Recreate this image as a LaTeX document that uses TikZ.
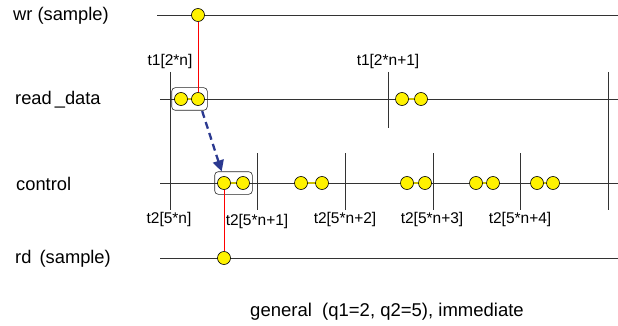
\documentclass[tikz,border=0pt]{standalone}
\usepackage{fontspec}
\setmainfont{Liberation Sans}
\usetikzlibrary{fit,arrows.meta}
\definecolor{dotyellow}{HTML}{FFF200}
\definecolor{pairline}{HTML}{C8BE00}
\definecolor{navyarrow}{HTML}{2B3990}
\begin{document}
\begin{tikzpicture}[x=1pt,y=-1pt,
  sig/.style={draw=black!80, line width=0.8pt},
  tickline/.style={draw=black!80, line width=0.8pt},
  dot/.style={circle, draw=black, fill=dotyellow, minimum size=13pt, inner sep=0pt, line width=0.6pt},
  pair/.style={draw=pairline, line width=1.2pt},
  grp/.style={draw=black!85, rounded corners=3.5pt, inner xsep=2.5pt, inner ysep=4.5pt, line width=0.6pt},
  lbl/.style={anchor=west, font=\fontsize{18.3}{21}\selectfont, inner sep=0pt},
  tlbl/.style={font=\fontsize{15.5}{18}\selectfont, inner sep=0pt},
  captext/.style={font=\fontsize{18.5}{21}\selectfont, inner sep=0pt},
  redl/.style={draw=red, line width=0.8pt},
  darr/.style={draw=navyarrow, line width=2.3pt, dash pattern=on 7pt off 4.5pt, -{Triangle[length=11pt,width=11pt]}}]
\useasboundingbox (0,0) rectangle (618,326);
% labels
\node[lbl] (lwr) at (13,16) {wr (sample)};
\node[lbl] (lrd) at (15,100) {read\,\_data};
\node[lbl] (lct) at (16,184) {control};
\node[lbl] (lrs) at (15,259) {rd\,\ (sample)};
% signal lines
\coordinate (wa) at (157,15); \coordinate (wb) at (618,15);
\coordinate (ra) at (160,99); \coordinate (rb) at (618,99);
\coordinate (ca) at (160,183); \coordinate (cb) at (618,183);
\coordinate (sa) at (160,258); \coordinate (sb) at (618,258);
\draw[sig] (wa) -- (wb);
\draw[sig] (ra) -- (rb);
\draw[sig] (ca) -- (cb);
\draw[sig] (sa) -- (sb);
% ticks
\coordinate (k0a) at (170,72); \coordinate (k0b) at (170,210);
\coordinate (k1a) at (388,72); \coordinate (k1b) at (388,128);
\coordinate (k2a) at (608,72); \coordinate (k2b) at (608,210);
\coordinate (m1a) at (257,153); \coordinate (m1b) at (257,210);
\coordinate (m2a) at (345,153); \coordinate (m2b) at (345,210);
\coordinate (m3a) at (433,153); \coordinate (m3b) at (433,210);
\coordinate (m4a) at (520,153); \coordinate (m4b) at (520,210);
\foreach \a/\b in {k0a/k0b,k1a/k1b,k2a/k2b,m1a/m1b,m2a/m2b,m3a/m3b,m4a/m4b}
  \draw[tickline] (\a) -- (\b);
% tick labels
\node[tlbl] (t10) at (170,61) {t1[2*n]};
\node[tlbl] (t11) at (388,61) {t1[2*n+1]};
\node[tlbl] (t20) at (169,219.5) {t2[5*n]};
\node[tlbl] (t21) at (257,221) {t2[5*n+1]};
\node[tlbl] (t22) at (345,219.5) {t2[5*n+2]};
\node[tlbl] (t23) at (432,219.5) {t2[5*n+3]};
\node[tlbl] (t24) at (520,219.5) {t2[5*n+4]};
% dots
\node[dot] (w) at (198,15) {};
\node[dot] (r1) at (181,99) {};
\node[dot] (r2) at (198,99) {};
\node[dot] (r3) at (402,99) {};
\node[dot] (r4) at (421,99) {};
\node[dot] (c1) at (224,183) {};
\node[dot] (c2) at (243,183) {};
\node[dot] (c3) at (301,183) {};
\node[dot] (c4) at (322,183) {};
\node[dot] (c5) at (407,183) {};
\node[dot] (c6) at (425,183) {};
\node[dot] (c7) at (476,183) {};
\node[dot] (c8) at (493,183) {};
\node[dot] (c9) at (537,183) {};
\node[dot] (c10) at (553,183) {};
\node[dot] (s) at (224,258) {};
\foreach \a/\b in {r1/r2,r3/r4,c1/c2,c3/c4,c5/c6,c7/c8,c9/c10}
  \draw[pair] (\a) -- (\b);
% groups
\node[grp, fit=(r1)(r2)] (g1) {};
\node[grp, fit=(c1)(c2)] (g2) {};
% red links
\draw[redl] (w.south) -- (r2.north);
\draw[redl] (c1.south) -- (s.north);
% arrow
\draw[darr, shorten <=6pt, shorten >=0pt] (r2.-70) -- (g2.north west -| c1.110);
% caption
\node[captext] (capt) at (387,312) {general\ \ (q1=2, q2=5), immediate};
\end{tikzpicture}
\end{document}
